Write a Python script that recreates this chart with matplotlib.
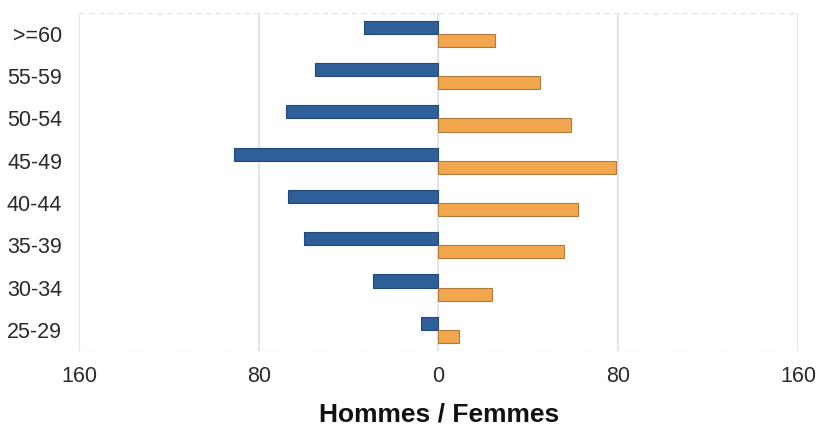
import matplotlib
matplotlib.use("Agg")
import matplotlib.pyplot as plt
import numpy as np

plt.rcParams['font.family'] = ['Liberation Sans', 'DejaVu Sans']

categories = [">=60", "55-59", "50-54", "45-49", "40-44", "35-39", "30-34", "25-29"]
hommes = [33, 55, 68, 91, 67, 60, 29, 8]
femmes = [25, 45, 59, 79, 62, 56, 24, 9]
xticks = [-160, -80, 0, 80, 160]
xticklabels = ["160", "80", "0", "80", "160"]

fig = plt.figure(figsize=(8.2, 4.26), dpi=100)
ax = fig.add_axes([79/820, (426-351)/426, (798-79)/820, (351-12.7)/426])

y = np.arange(len(categories))
h = 0.31
ax.barh(y, [-v for v in hommes], height=-h, align='edge', color='#2F5F98',
        edgecolor='#23487a', linewidth=0.8, zorder=3)
ax.barh(y, femmes, height=h, align='edge', color='#F2A64E',
        edgecolor='#b07a3a', linewidth=0.8, zorder=3)

ax.set_xlim(-160, 160)
ax.set_ylim(len(categories) - 0.5, -0.5)
ax.set_yticks(y)
ax.set_yticklabels(categories, fontsize=15.5, color='#2a2a2a')
ax.set_xticks(xticks)
ax.set_xticklabels(xticklabels, fontsize=15.5, color='#2a2a2a')
ax.tick_params(length=0)
ax.tick_params(axis='x', pad=11)
ax.tick_params(axis='y', pad=12)

for s in ax.spines.values():
    s.set_visible(False)
for xv in xticks:
    ax.axvline(xv, color='#E4E4EE', linewidth=1.5, zorder=1)
for yv in (-0.5, len(categories) - 0.5):
    ax.axhline(yv, color='#E4E4F0', linewidth=1, linestyle=(0, (4, 3)), zorder=1)

fig.text(439/820, 11/426, "Hommes / Femmes", fontsize=19, fontweight='bold',
         color='#111111', ha='center', va='center')

fig.savefig("out.png", dpi=100)
